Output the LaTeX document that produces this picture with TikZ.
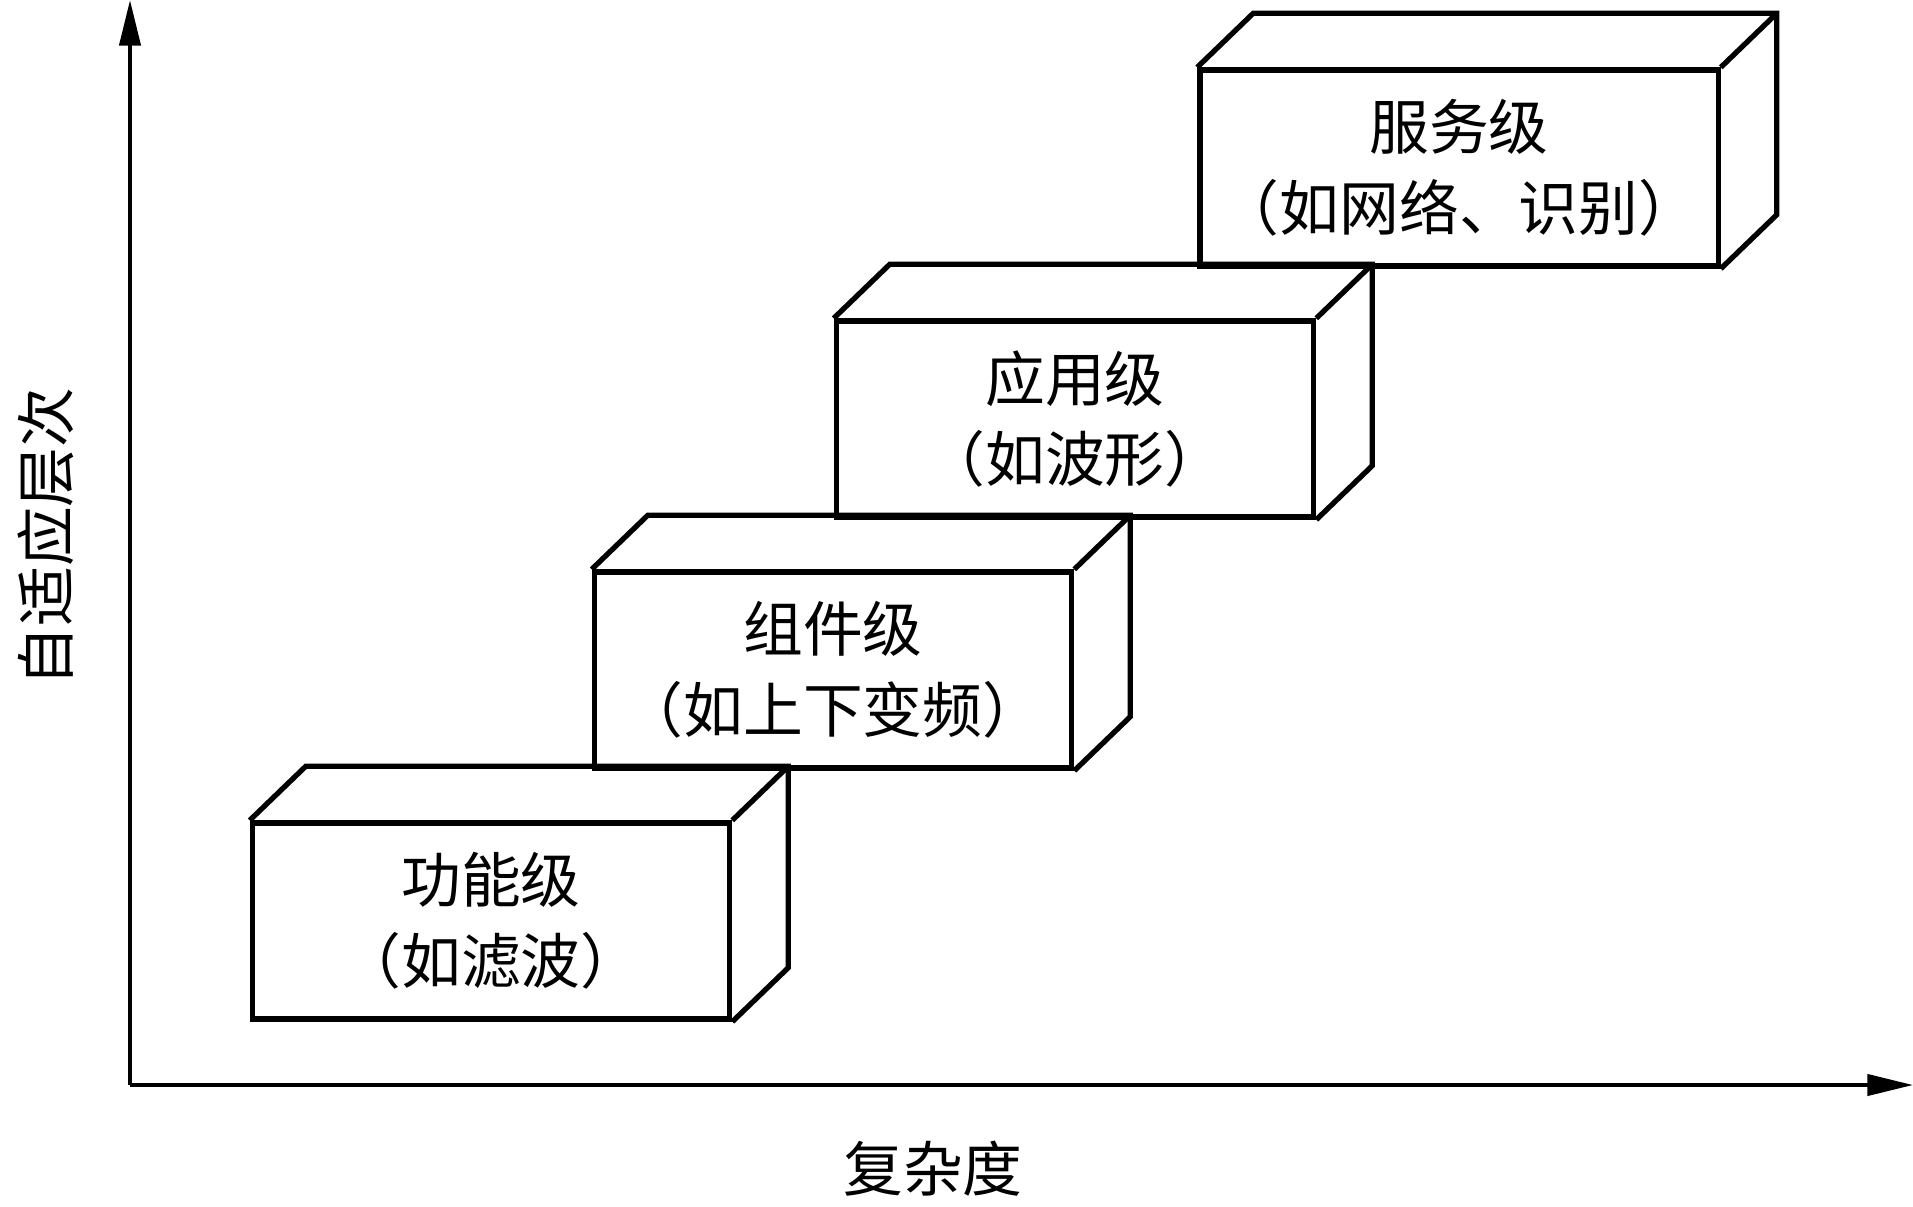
\documentclass[tikz,border=0pt]{standalone}
\usepackage{fontspec}
\usepackage{tikz}
\usetikzlibrary{arrows.meta}
\newfontfamily\cjk{Noto Sans CJK SC}

\tikzset{
  boxline/.style={line width=1.5pt, line join=miter},
  levelbox/.style={boxline, draw, rectangle, inner sep=0pt, minimum width=4.77cm, minimum height=1.96cm, align=center, font=\cjk\fontsize{17}{23}\selectfont},
  axis/.style={line width=1.1pt, -{Triangle[length=13pt,width=6pt]}},
  axislabel/.style={font=\cjk\fontsize{17}{20}\selectfont}
}

\begin{document}
\begin{tikzpicture}[x=0.01cm, y=-0.01cm]
    \useasboundingbox (0,0) rectangle (1913,1206);
    % axes
    \coordinate (O) at (130,1085);
    \coordinate (xend) at (1913,1085);
    \coordinate (yend) at (130,0);
    \draw[axis] (O) -- (xend);
    \draw[axis] (O) -- (yend);
    \node[axislabel] (xlab) at (933,1169) {复杂度};
    \node[axislabel, rotate=90] (ylab) at (46,537) {自适应层次};
    % level boxes
    \node[levelbox] (func) at (491,921) {功能级\\（如滤波）};
    \node[levelbox] (comp) at (833,670) {组件级\\（如上下变频）};
    \node[levelbox] (appl) at (1075,419) {应用级\\（如波形）};
    \node[levelbox, minimum width=5.18cm] (serv) at (1459,168) {服务级\\（如网络、识别）};
    \foreach \b in {func,comp,appl,serv}{
        \draw[boxline] (\b.north west) -- ++(56,-54) -| ([shift={(56,-54)}]\b.south east) -- (\b.south east);
        \draw[boxline] (\b.north east) -- ++(56,-54);
    }
\end{tikzpicture}
\end{document}
